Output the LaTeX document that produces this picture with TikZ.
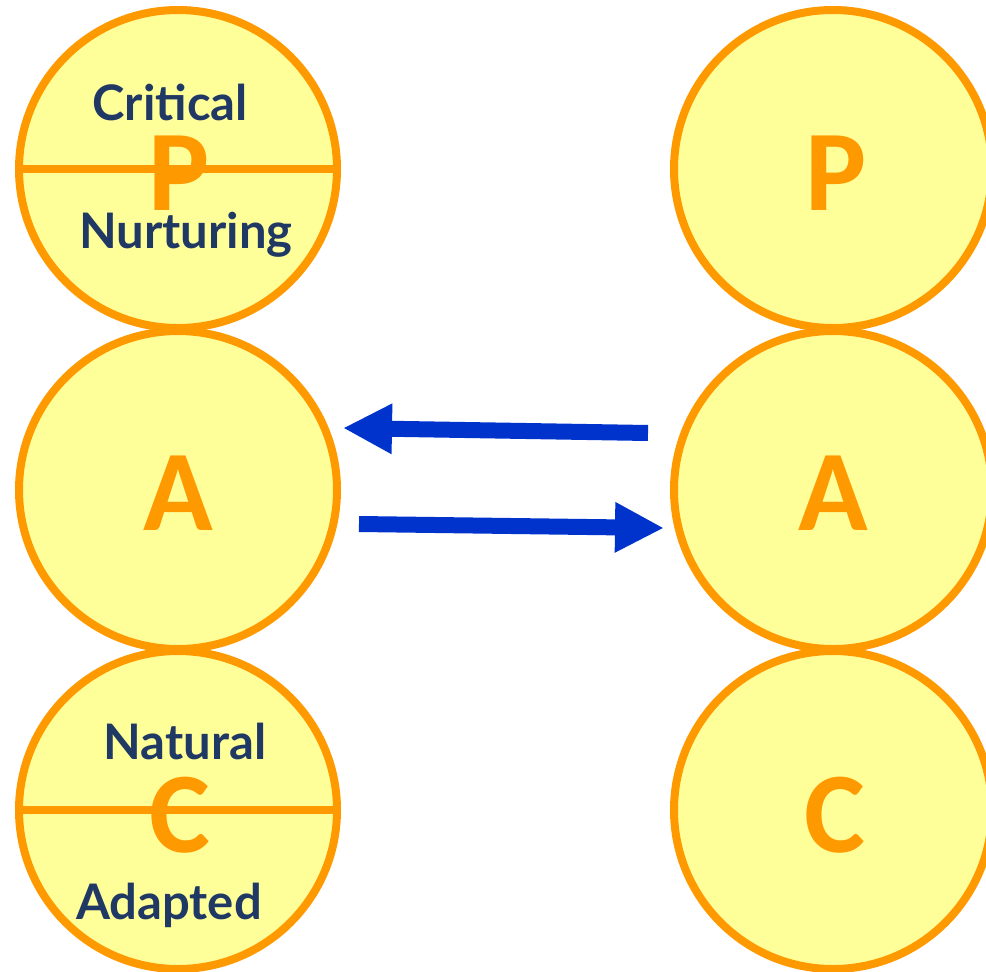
\documentclass[tikz,border=0pt]{standalone}
\usepackage{fontspec}
\setmainfont{Lato}
\newfontfamily\letterfont{Carlito}
\usetikzlibrary{arrows.meta,calc}
\definecolor{ringorange}{HTML}{FF9900}
\definecolor{ringfill}{HTML}{FFFF99}
\definecolor{labelnavy}{HTML}{203864}
\definecolor{flowblue}{HTML}{0033CC}
\tikzset{
  egostate/.style={circle, draw=ringorange, fill=ringfill, line width=8pt,
    minimum size=318pt, inner sep=0pt},
  divider/.style={draw=ringorange, line width=8pt},
  bigletter/.style={text=ringorange, anchor=base,
    font=\letterfont\bfseries\fontsize{115}{115}\selectfont},
  sublabel/.style={text=labelnavy, anchor=base,
    font=\bfseries\fontsize{49}{49}\selectfont},
  flow/.style={draw=flowblue, line width=16pt,
    -{Triangle[length=49pt, width=47pt]}},
}
\begin{document}
\begin{tikzpicture}[x=1pt, y=-1pt]
  \useasboundingbox (0,0) rectangle (986,972);

  % left column: Parent, Adult, Child
  \node[egostate] (P1) at (178,169) {};
  \node[egostate] (A1) at (178,490) {};
  \node[egostate] (C1) at (178,810) {};
  % right column
  \node[egostate] (P2) at (833,169) {};
  \node[egostate] (A2) at (833,490) {};
  \node[egostate] (C2) at (833,810) {};

  % split lines of the left Parent and Child
  \draw[divider] (P1.west) -- (P1.east);
  \draw[divider] (C1.west) -- (C1.east);

  % letters
  \node[bigletter] (lP1) at (179,210) {P};
  \node[bigletter] (lA1) at (178,530) {A};
  \node[bigletter] (lC1) at (180,852) {C};
  \node[bigletter] (lP2) at (836,210) {P};
  \node[bigletter] (lA2) at (833,530) {A};
  \node[bigletter] (lC2) at (835,852) {C};

  % sub-state labels
  \node[sublabel] (crit) at (170,120) {Critical};
  \node[sublabel] (nurt) at (186,248) {Nurturing};
  \node[sublabel] (natu) at (185,759) {Natural};
  \node[sublabel] (adap) at (169,919) {Adapted};

  % transactions between the two Adult states
  \coordinate (s1) at ($(A2.west)+(-22,-57)$);
  \coordinate (e1) at ($(A1.east)+(2,-62)$);
  \coordinate (s2) at ($(A1.east)+(18,34)$);
  \coordinate (e2) at ($(A2.west)+(-6,38)$);
  \draw[flow] (s1) -- (e1);
  \draw[flow] (s2) -- (e2);
\end{tikzpicture}
\end{document}
